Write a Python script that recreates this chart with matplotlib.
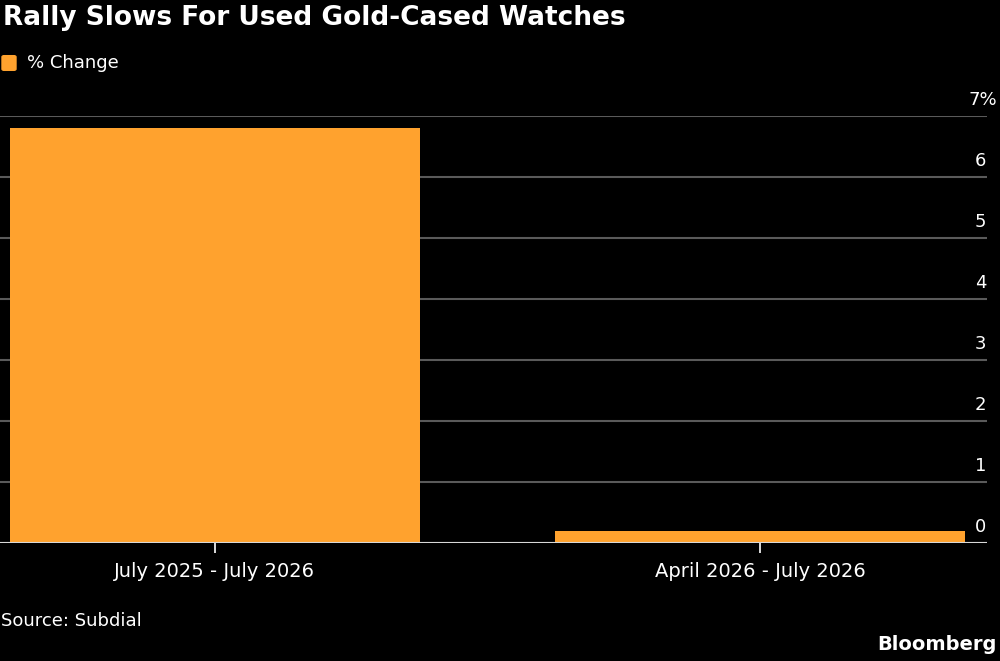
import matplotlib.pyplot as plt
from matplotlib.patches import FancyBboxPatch

categories = ["July 2025 - July 2026", "April 2026 - July 2026"]
pct_change = [6.8, 0.2]
y_ticks = [0, 1, 2, 3, 4, 5, 6, 7]
y_labels = ["0", "1", "2", "3", "4", "5", "6", "7%"]

orange = "#FFA22E"
W, H = 1000, 661

fig = plt.figure(figsize=(W / 100, H / 100), dpi=100, facecolor="black")
# axes: x 0..987 px, y 116..543 px (from top)
ax = fig.add_axes([0 / W, 1 - 543 / H, 987 / W, (543 - 116) / H])
ax.set_facecolor("black")

x = list(range(len(categories)))
ax.bar(x, pct_change, width=0.752, color=orange, zorder=3)
ax.set_xlim(-0.394, 1.4165)
ax.set_ylim(0, 7)

ax.set_yticks(y_ticks)
ax.yaxis.grid(True, color="#5a5a5a", linewidth=1.5, zorder=0)
ax.tick_params(axis="y", length=0, labelleft=False)
ax.axhline(0, color="#d8d8d8", linewidth=1.5, zorder=4)
for v, lab in zip(y_ticks, y_labels):
    if lab.endswith("%"):
        xa, ha = 997 / 987, "right"
    else:
        xa, ha = 975 / 987, "left"
    ax.annotate(lab, xy=(xa, v), xycoords=("axes fraction", "data"),
                xytext=(0, 5), textcoords="offset points", annotation_clip=False,
                ha=ha, va="bottom", color="white", fontsize=13)

ax.set_xticks(x)
ax.set_xticklabels(categories, color="white", fontsize=14)
ax.tick_params(axis="x", colors="white", length=7, width=1.2, pad=7,
               direction="out")
for s in ax.spines.values():
    s.set_visible(False)

fig.text(3 / W, 1 - 18 / H, "Rally Slows For Used Gold-Cased Watches",
         color="white", fontsize=19, fontweight="bold", va="center", ha="left")

fig.patches.append(FancyBboxPatch((4 / W, 1 - 69 / H), 10 / W, 12 / H,
                                  boxstyle="round,pad=0.002",
                                  transform=fig.transFigure,
                                  color=orange, figure=fig))
fig.text(27 / W, 1 - 63 / H, "% Change", color="white", fontsize=13,
         va="center", ha="left")

fig.text(1 / W, 1 - 621 / H, "Source: Subdial", color="white", fontsize=13,
         va="center", ha="left")
fig.text(997 / W, 1 - 645 / H, "Bloomberg", color="white", fontsize=14,
         fontweight="bold", va="center", ha="right")

fig.savefig("out.png", dpi=100, facecolor="black")
